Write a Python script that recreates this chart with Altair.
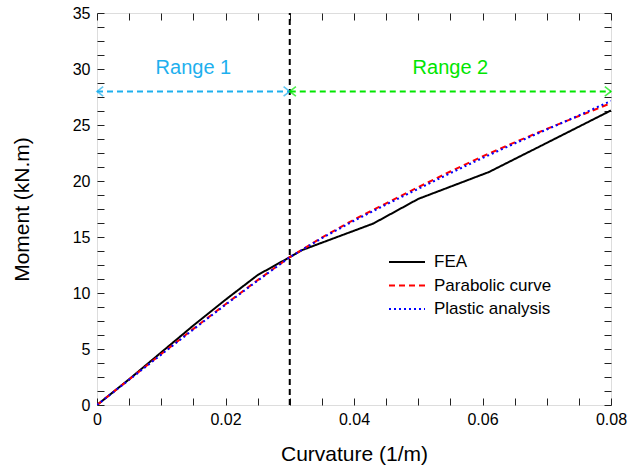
import altair as alt
import pandas as pd

# ---------------- data ----------------
curv_fea = [0, 0.005, 0.01, 0.015, 0.02, 0.025, 0.03, 0.032, 0.043, 0.05, 0.061, 0.07, 0.08]
mom_fea = [0, 2.3, 4.7, 7.1, 9.4, 11.6, 13.2, 13.85, 16.2, 18.4, 20.8, 23.4, 26.3]

curv_model = [0, 0.005, 0.01, 0.015, 0.02, 0.025, 0.03, 0.035, 0.04, 0.045,
              0.05, 0.055, 0.06, 0.065, 0.07, 0.075, 0.08]
mom_parabolic = [0, 2.28, 4.55, 6.8, 9.0, 11.15, 13.2, 14.95, 16.55, 18.0,
                 19.45, 20.85, 22.2, 23.45, 24.65, 25.8, 26.95]
mom_plastic = [0, 2.25, 4.5, 6.75, 8.95, 11.1, 13.2, 14.9, 16.45, 17.9,
               19.3, 20.7, 22.05, 23.35, 24.6, 25.85, 27.15]

series_names = ["FEA", "Parabolic curve", "Plastic analysis"]
series_colors = ["black", "#ff0000", "#0000ff"]
series_dash = [[1, 0], [6, 4], [2, 3]]

split_curv = [0.03]
y_span = [0, 35]
arrow_y = 28
range1_x = [0, 0.03]
range2_x = [0.03, 0.08]
range_labels = ["Range 1", "Range 2"]
range_label_x = [0.015, 0.055]
range_label_y = [30.1, 30.1]
range_colors = ["#1eb0ee", "#00e600"]

x_ticks = [0, 0.005, 0.01, 0.015, 0.02, 0.025, 0.03, 0.035, 0.04, 0.045,
           0.05, 0.055, 0.06, 0.065, 0.07, 0.075, 0.08]
y_ticks = [0, 1.25, 2.5, 3.75, 5, 6.25, 7.5, 8.75, 10, 11.25, 12.5, 13.75, 15,
           16.25, 17.5, 18.75, 20, 21.25, 22.5, 23.75, 25, 26.25, 27.5, 28.75,
           30, 31.25, 32.5, 33.75, 35]

# ---------------- tables ----------------
rows = []
for c, m in zip(curv_fea, mom_fea):
    rows.append({"series": "FEA", "k": c, "M": m, "o": 0})
for c, m in zip(curv_model, mom_parabolic):
    rows.append({"series": "Parabolic curve", "k": c, "M": m, "o": 1})
for c, m in zip(curv_model, mom_plastic):
    rows.append({"series": "Plastic analysis", "k": c, "M": m, "o": 2})
lines_df = pd.DataFrame(rows)

FONT = "Liberation Sans"
xscale = alt.Scale(domain=[0, 0.08], nice=False, zero=False)
yscale = alt.Scale(domain=[0, 35], nice=False, zero=False)

x_major = "abs(datum.value*50 - round(datum.value*50)) < 0.001 ? datum.label : ''"
y_major = "abs(datum.value/5 - round(datum.value/5)) < 0.001 ? datum.label : ''"

axis_common = dict(tickSize=7, offset=-7, domain=False, grid=False, tickColor="#222",
                   tickWidth=1, labelColor="black", titleColor="black",
                   labelFont=FONT, titleFont=FONT, labelFontSize=16, titleFontSize=21,
                   titleFontWeight="normal", labelFlush=False, labelOverlap=False)

x_axis = alt.Axis(values=x_ticks, labelExpr=x_major, format="~g", labelPadding=6,
                  title="Curvature (1/m)", titlePadding=16, orient="bottom", **axis_common)
y_axis = alt.Axis(values=y_ticks, labelExpr=y_major, format="~g", labelPadding=7,
                  title="Moment (kN.m)", titlePadding=40, orient="left", **axis_common)
x_axis_top = alt.Axis(values=x_ticks, labels=False, title=None, orient="top", **axis_common)
y_axis_right = alt.Axis(values=y_ticks, labels=False, title=None, orient="right", **axis_common)

# vertical split line
split = alt.Chart(pd.DataFrame({"k": split_curv, "y0": [y_span[0]], "y1": [y_span[1]]})).mark_rule(
    color="black", strokeWidth=2, strokeDash=[6, 4]
).encode(
    x=alt.X("k:Q", scale=xscale, axis=x_axis),
    y=alt.Y("y0:Q", scale=yscale, axis=y_axis),
    y2="y1:Q",
)

# frame-side ticks (top / right)
ticks_tr = alt.Chart(pd.DataFrame({"k": split_curv, "y0": [y_span[0]]})).mark_point(opacity=0).encode(
    x=alt.X("k:Q", scale=xscale, axis=x_axis_top),
    y=alt.Y("y0:Q", scale=yscale, axis=y_axis_right),
)

lines = alt.Chart(lines_df).mark_line(strokeWidth=2, clip=True).encode(
    x=alt.X("k:Q", scale=xscale, axis=None),
    y=alt.Y("M:Q", scale=yscale, axis=None),
    color=alt.Color("series:N", scale=alt.Scale(domain=series_names, range=series_colors),
                    legend=alt.Legend(title=None, orient="none", legendX=291, legendY=239,
                                      symbolType="stroke", symbolSize=1296, symbolStrokeWidth=2,
                                      labelFont=FONT, labelFontSize=17, labelColor="black",
                                      labelOffset=8, clipHeight=20, rowPadding=3.5, padding=0)),
    strokeDash=alt.StrokeDash("series:N", scale=alt.Scale(domain=series_names, range=series_dash),
                              legend=None),
    order="o:Q",
    detail="series:N",
)

def range_arrow(xs, color):
    df = pd.DataFrame({"x0": [xs[0]], "x1": [xs[1]], "y": [arrow_y]})
    line = alt.Chart(df).mark_rule(color=color, strokeWidth=2, strokeDash=[6, 4]).encode(
        x=alt.X("x0:Q", scale=xscale, axis=None), x2="x1:Q",
        y=alt.Y("y:Q", scale=yscale, axis=None))
    heads_df = pd.DataFrame({"x": xs, "y": [arrow_y, arrow_y], "dir": ["left", "right"]})
    heads = alt.Chart(heads_df).mark_point(filled=False, color=color, strokeWidth=1.6, size=90).encode(
        x=alt.X("x:Q", scale=xscale, axis=None),
        y=alt.Y("y:Q", scale=yscale, axis=None),
        shape=alt.Shape("dir:N", scale=alt.Scale(domain=["left", "right"],
                        range=["M1.3,-1L0,0L1.3,1", "M-1.3,-1L0,0L-1.3,1"]), legend=None),
    )
    return line + heads

arrow1 = range_arrow(range1_x, range_colors[0])
arrow2 = range_arrow(range2_x, range_colors[1])

labels_df = pd.DataFrame({"x": range_label_x, "y": range_label_y, "t": range_labels, "c": range_colors})
range_text = alt.Chart(labels_df).mark_text(font=FONT, fontSize=20, baseline="middle", align="center").encode(
    x=alt.X("x:Q", scale=xscale, axis=None),
    y=alt.Y("y:Q", scale=yscale, axis=None),
    text="t:N",
    color=alt.Color("c:N", scale=None),
)

chart = alt.layer(split, ticks_tr, lines, arrow1, arrow2, range_text).resolve_axis(
    x="independent", y="independent"
).properties(
    width=514, height=392,
    autosize=alt.AutoSizeParams(type="none"),
    padding={"left": 97, "top": 13, "right": 18, "bottom": 70},
).configure_view(stroke="#222", strokeWidth=1).configure(background="white")

chart.save("out.html", embed_options={"renderer": "svg", "actions": False})
